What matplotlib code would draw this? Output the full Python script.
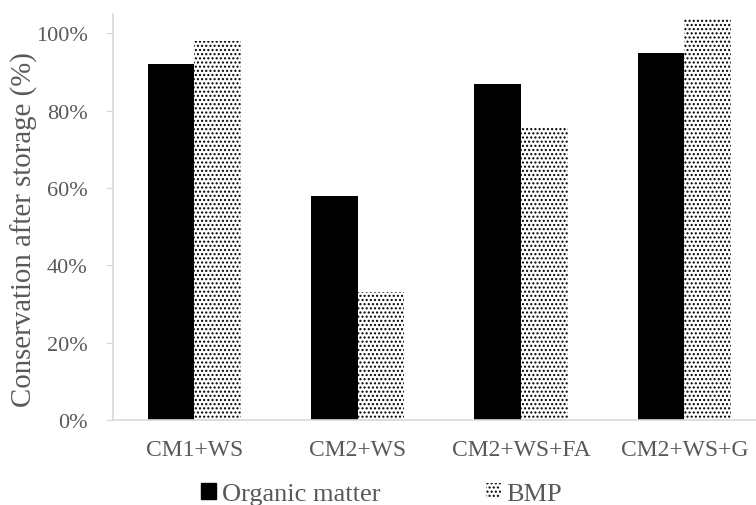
import numpy as np
import matplotlib.pyplot as plt
from matplotlib.patches import Patch
from matplotlib.ticker import PercentFormatter

plt.rcParams['font.family'] = ['Liberation Serif', 'DejaVu Serif']
plt.rcParams['hatch.linewidth'] = 1.0

# data
categories = ['CM1+WS', 'CM2+WS', 'CM2+WS+FA', 'CM2+WS+G']
organic_matter = [0.92, 0.58, 0.87, 0.95]
bmp = [0.98, 0.33, 0.755, 1.04]

grey = '#595959'
axis_grey = '#d9d9d9'

fig = plt.figure(figsize=(7.56, 5.06), dpi=100)
ax = fig.add_axes([112.7 / 756, 1 - 421 / 506, (766 - 112.7) / 756, (421 - 15) / 506])

x = np.arange(len(categories))
w = 0.285
ax.bar(x - w / 2, organic_matter, w, color='black', label='Organic matter')
ax.bar(x + w / 2, bmp, w, color='white', edgecolor='black', hatch='....',
       linewidth=0, label='BMP')

ax.set_xlim(-0.5, 3.5)
ax.set_ylim(0, 1.05)
ax.set_yticks([0, 0.2, 0.4, 0.6, 0.8, 1.0])
ax.yaxis.set_major_formatter(PercentFormatter(1.0, decimals=0))
ax.set_xticks(x)
ax.set_xticklabels(categories)

for s in ['top', 'right']:
    ax.spines[s].set_visible(False)
for s in ['left', 'bottom']:
    ax.spines[s].set_color(axis_grey)
    ax.spines[s].set_linewidth(1.2)
ax.tick_params(axis='y', colors=grey, labelsize=16, length=5, color=axis_grey, pad=13)
ax.tick_params(axis='x', colors=grey, labelsize=17, length=0, pad=14)
ax.set_ylabel('Conservation after storage (%)', color=grey, fontsize=20.8, va='center')
ax.yaxis.set_label_coords(-0.1358, 0.4717)

handles = [Patch(facecolor='black', edgecolor='black'),
           Patch(facecolor='white', edgecolor='black', hatch='....', linewidth=0)]
fig.legend(handles, ['Organic matter', 'BMP'], loc='center', bbox_to_anchor=(381.5 / 756, 1 - 495 / 506),
           ncol=2, frameon=False, fontsize=19, labelcolor=grey, handlelength=0.57,
           handleheight=0.57, handletextpad=0.2, columnspacing=4.0)

fig.savefig('out.png', dpi=100)
